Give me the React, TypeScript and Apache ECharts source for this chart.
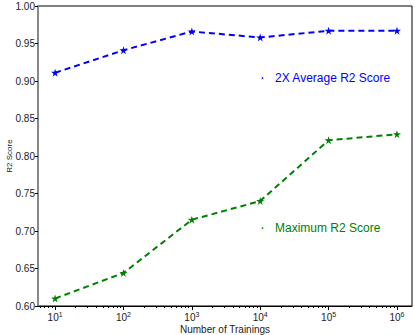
import React, { useEffect, useRef } from "react";
import * as echarts from "echarts";

const trainings = [10, 100, 1000, 10000, 100000, 1000000];
const avgScore = [0.911, 0.941, 0.966, 0.958, 0.967, 0.967];
const maxScore = [0.61, 0.644, 0.715, 0.74, 0.821, 0.829];
const yTicks = [0.6, 0.65, 0.7, 0.75, 0.8, 0.85, 0.9, 0.95, 1.0];
const decades = [1, 2, 3, 4, 5, 6];
const avgName = "2X Average R2 Score";
const maxName = "Maximum R2 Score";

const STAR =
  "path://M0,-10 L2.25,-3.09 L9.51,-3.09 L3.63,1.18 L5.88,8.09 L0,3.82 L-5.88,8.09 L-3.63,1.18 L-9.51,-3.09 L-2.25,-3.09 Z";

const FONT = "Liberation Sans";
const XMIN = 0.75;
const XMAX = 6.22;

export default function App() {
  const ref = useRef<HTMLDivElement>(null);
  useEffect(() => {
    if (!ref.current) return;
    const chart = echarts.init(ref.current, null, { renderer: "svg" });
    const minors: number[] = [];
    for (let d = 0; d <= 6; d++) {
      for (let k = 2; k <= 9; k++) {
        const v = Math.log10(k * Math.pow(10, d));
        if (v > XMIN && v < XMAX) minors.push(v);
      }
    }
    const toPts = (vals: number[]) => trainings.map((t, i) => [Math.log10(t), vals[i]]);
    chart.setOption({
      animation: false,
      textStyle: { fontFamily: FONT },
      grid: {
        left: 38,
        right: 3,
        top: 6,
        bottom: 29,
        show: true,
        borderColor: "#000",
        borderWidth: 1,
        containLabel: false,
        outerBoundsMode: "none",
      },
      legend: [
        {
          data: [{ name: avgName, icon: STAR }],
          left: 256,
          top: 67,
          itemWidth: 3,
          itemHeight: 3,
          itemGap: 0,
          textStyle: { color: "#0000ff", fontSize: 12, fontFamily: FONT, padding: [0, 0, 0, 6] },
        },
        {
          data: [{ name: maxName, icon: STAR }],
          left: 256,
          top: 217,
          itemWidth: 3,
          itemHeight: 3,
          itemGap: 0,
          textStyle: { color: "#008000", fontSize: 12, fontFamily: FONT, padding: [0, 0, 0, 6] },
        },
      ],
      xAxis: [
        {
          type: "value",
          min: XMIN,
          max: XMAX,
          name: "Number of Trainings",
          nameLocation: "middle",
          nameGap: 18,
          nameMoveOverlap: false,
          nameTextStyle: { fontSize: 10, color: "#222", fontFamily: FONT },
          axisLine: { show: true, lineStyle: { color: "#000", width: 1 } },
          axisTick: { show: true, length: 4, inside: false, customValues: decades, lineStyle: { color: "#000" } },
          axisLabel: {
            customValues: decades,
            margin: 5,
            formatter: (v: number) => `{b|10}{s|${Math.round(v)}}`,
            rich: {
              b: { fontSize: 10, color: "#222", fontFamily: FONT },
              s: { fontSize: 7, color: "#222", fontFamily: FONT, padding: [0, 0, 5, 0] },
            },
          },
          splitLine: { show: false },
        },
        {
          type: "value",
          min: XMIN,
          max: XMAX,
          position: "bottom",
          axisLine: { show: false },
          axisTick: { show: true, length: 2, customValues: minors, lineStyle: { color: "#000" } },
          axisLabel: { show: false },
          splitLine: { show: false },
        },
      ],
      yAxis: {
        type: "value",
        min: 0.6,
        max: 1.0,
        interval: 0.05,
        name: "R2 Score",
        nameLocation: "middle",
        nameGap: 25,
        nameMoveOverlap: false,
        nameTextStyle: { fontSize: 8, color: "#222", fontFamily: FONT },
        axisLine: { show: true, lineStyle: { color: "#888", width: 2 } },
        axisTick: { show: true, length: 3, lineStyle: { color: "#000" } },
        axisLabel: {
          margin: 3,
          fontSize: 10,
          color: "#222",
          customValues: yTicks,
          formatter: (v: number) => v.toFixed(2),
        },
        splitLine: { show: false },
      },
      series: [
        {
          name: avgName,
          type: "line",
          data: toPts(avgScore),
          symbol: STAR,
          symbolSize: 8,
          itemStyle: { color: "#0000ff" },
          lineStyle: { color: "#0000ff", width: 2, type: [6, 4] },
        },
        {
          name: maxName,
          type: "line",
          data: toPts(maxScore),
          symbol: STAR,
          symbolSize: 8,
          itemStyle: { color: "#008000" },
          lineStyle: { color: "#008000", width: 2, type: [6, 4] },
        },
      ],
    });
    return () => chart.dispose();
  }, []);
  return <div ref={ref} style={{ width: 415, height: 335, position: "absolute", left: 0, top: 0 }} />;
}
